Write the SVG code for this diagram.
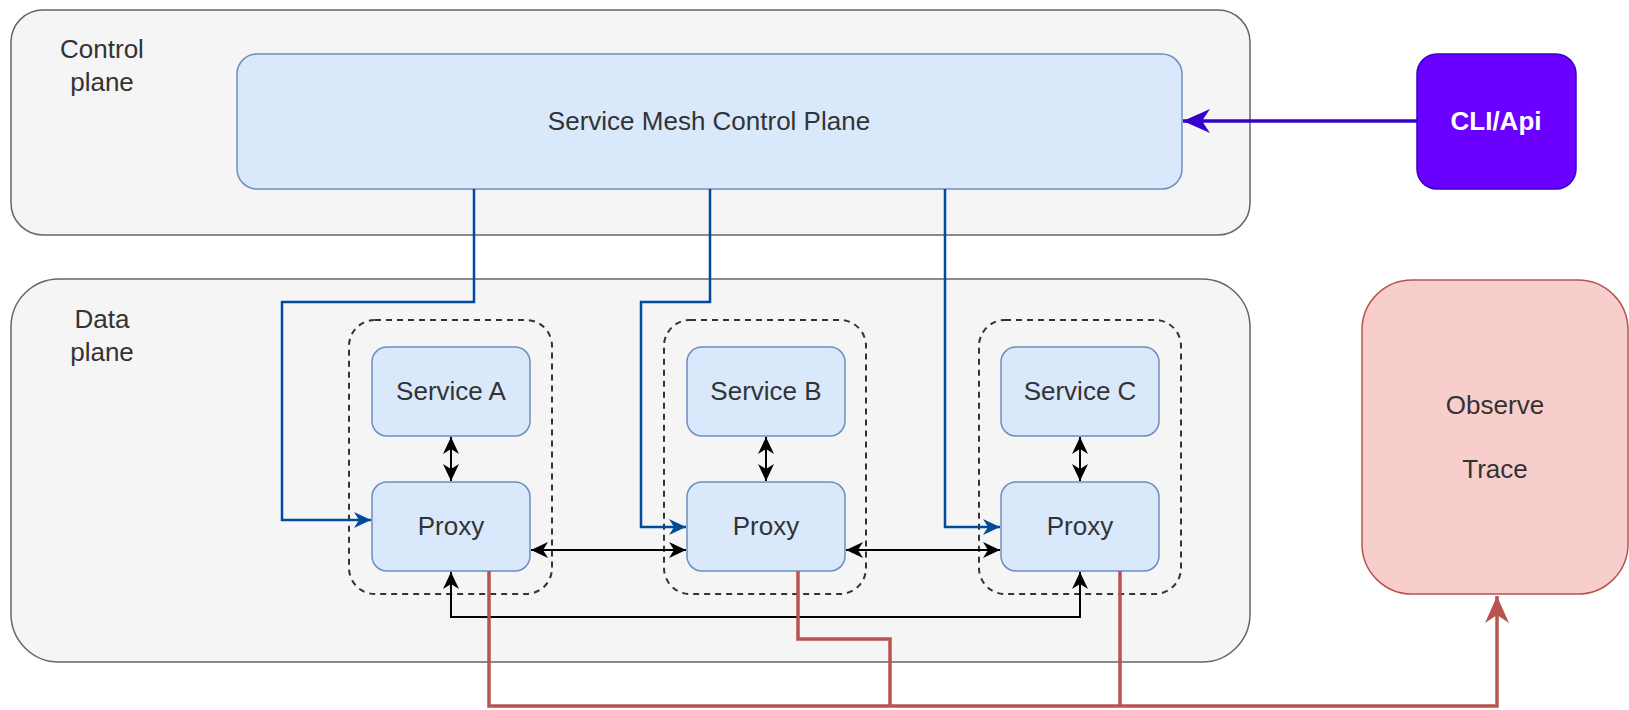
<svg xmlns="http://www.w3.org/2000/svg" width="1629" height="710" viewBox="0 0 1629 710">
<style>
.container{fill:#f5f5f5;stroke:#666666;stroke-width:1.5}
.blue{fill:#dae8fc;stroke:#6c8ebf;stroke-width:1.5}
.group{fill:none;stroke:#333333;stroke-width:2;stroke-dasharray:6 5}
.t{font-family:"Liberation Sans",Arial,sans-serif;font-size:26px;fill:#333333;text-anchor:middle}
.tb{font-family:"Liberation Sans",Arial,sans-serif;font-size:26px;font-weight:bold;fill:#ffffff;text-anchor:middle}
.cb{fill:none;stroke:#004C99;stroke-width:2.5}
.ck{fill:none;stroke:#000000;stroke-width:2}
.cr{fill:none;stroke:#b85450;stroke-width:3.5}
.cp{fill:none;stroke:#3700CC;stroke-width:3.5}
</style>
<defs>
<marker id="mBlue" markerUnits="userSpaceOnUse" markerWidth="18" markerHeight="18" viewBox="0 0 18 18" refX="17" refY="9" orient="auto">
<path d="M0,1 L17,9 L0,17 L5,9 z" fill="#004C99"/>
</marker>
<marker id="mBlack" markerUnits="userSpaceOnUse" markerWidth="18" markerHeight="18" viewBox="0 0 18 18" refX="17" refY="9" orient="auto-start-reverse">
<path d="M0,1 L17,9 L0,17 L5,9 z" fill="#000000"/>
</marker>
<marker id="mRed" markerUnits="userSpaceOnUse" markerWidth="28" markerHeight="28" viewBox="0 0 28 28" refX="27" refY="14" orient="auto">
<path d="M0,2 L27,14 L0,26 L8,14 z" fill="#b85450"/>
</marker>
<marker id="mPurple" markerUnits="userSpaceOnUse" markerWidth="28" markerHeight="28" viewBox="0 0 28 28" refX="27" refY="14" orient="auto">
<path d="M0,2 L27,14 L0,26 L8,14 z" fill="#3700CC"/>
</marker>
</defs>
<rect width="1629" height="710" fill="#ffffff"/>

<g id="control-plane">
<rect class="container" x="11" y="10" width="1239" height="225" rx="32"/>
<text class="t" x="102" y="58">Control</text>
<text class="t" x="102" y="91">plane</text>
</g>

<g id="data-plane">
<rect class="container" x="11" y="279" width="1239" height="383" rx="48"/>
<text class="t" x="102" y="328">Data</text>
<text class="t" x="102" y="361">plane</text>
</g>

<g id="smcp">
<rect class="blue" x="237" y="54" width="945" height="135" rx="20"/>
<text class="t" x="709" y="130">Service Mesh Control Plane</text>
</g>

<g id="cli-api">
<rect x="1417" y="54" width="159" height="135" rx="20" fill="#6a00ff" stroke="#3700CC" stroke-width="1.5"/>
<text class="tb" x="1496" y="130">CLI/Api</text>
</g>

<g id="observe">
<rect x="1362" y="280" width="266" height="314" rx="50" fill="#f8cecc" stroke="#b85450" stroke-width="1.5"/>
<text class="t" x="1495" y="414">Observe</text>
<text class="t" x="1495" y="478">Trace</text>
</g>

<g id="group-a"><rect class="group" x="349" y="320" width="203" height="274" rx="26"/></g>
<g id="group-b"><rect class="group" x="664" y="320" width="202" height="274" rx="26"/></g>
<g id="group-c"><rect class="group" x="979" y="320" width="202" height="274" rx="26"/></g>

<g id="service-a">
<rect class="blue" x="372" y="347" width="158" height="89" rx="15"/>
<text class="t" x="451" y="400">Service A</text>
</g>
<g id="service-b">
<rect class="blue" x="687" y="347" width="158" height="89" rx="15"/>
<text class="t" x="766" y="400">Service B</text>
</g>
<g id="service-c">
<rect class="blue" x="1001" y="347" width="158" height="89" rx="15"/>
<text class="t" x="1080" y="400">Service C</text>
</g>

<g id="proxy-a">
<rect class="blue" x="372" y="482" width="158" height="89" rx="15"/>
<text class="t" x="451" y="535">Proxy</text>
</g>
<g id="proxy-b">
<rect class="blue" x="687" y="482" width="158" height="89" rx="15"/>
<text class="t" x="766" y="535">Proxy</text>
</g>
<g id="proxy-c">
<rect class="blue" x="1001" y="482" width="158" height="89" rx="15"/>
<text class="t" x="1080" y="535">Proxy</text>
</g>

<g id="connectors">
<path class="cp" d="M1417,121 L1183,121" marker-end="url(#mPurple)"/>
<path class="cb" d="M474,189 V302 H282 V520 H371" marker-end="url(#mBlue)"/>
<path class="cb" d="M710,189 V302 H641 V527 H686" marker-end="url(#mBlue)"/>
<path class="cb" d="M945,189 V527 H1000" marker-end="url(#mBlue)"/>
<path class="ck" d="M451,437 V481" marker-start="url(#mBlack)" marker-end="url(#mBlack)"/>
<path class="ck" d="M766,437 V481" marker-start="url(#mBlack)" marker-end="url(#mBlack)"/>
<path class="ck" d="M1080,437 V481" marker-start="url(#mBlack)" marker-end="url(#mBlack)"/>
<path class="ck" d="M531,550 H686" marker-start="url(#mBlack)" marker-end="url(#mBlack)"/>
<path class="ck" d="M846,550 H1000" marker-start="url(#mBlack)" marker-end="url(#mBlack)"/>
<path class="ck" d="M451,572 V617 H1080 V572" marker-start="url(#mBlack)" marker-end="url(#mBlack)"/>
<path class="cr" d="M489,571 V706 H1497 V596" marker-end="url(#mRed)"/>
<path class="cr" d="M798,571 V639 H890 V706"/>
<path class="cr" d="M1120,571 V706"/>
</g>
</svg>
